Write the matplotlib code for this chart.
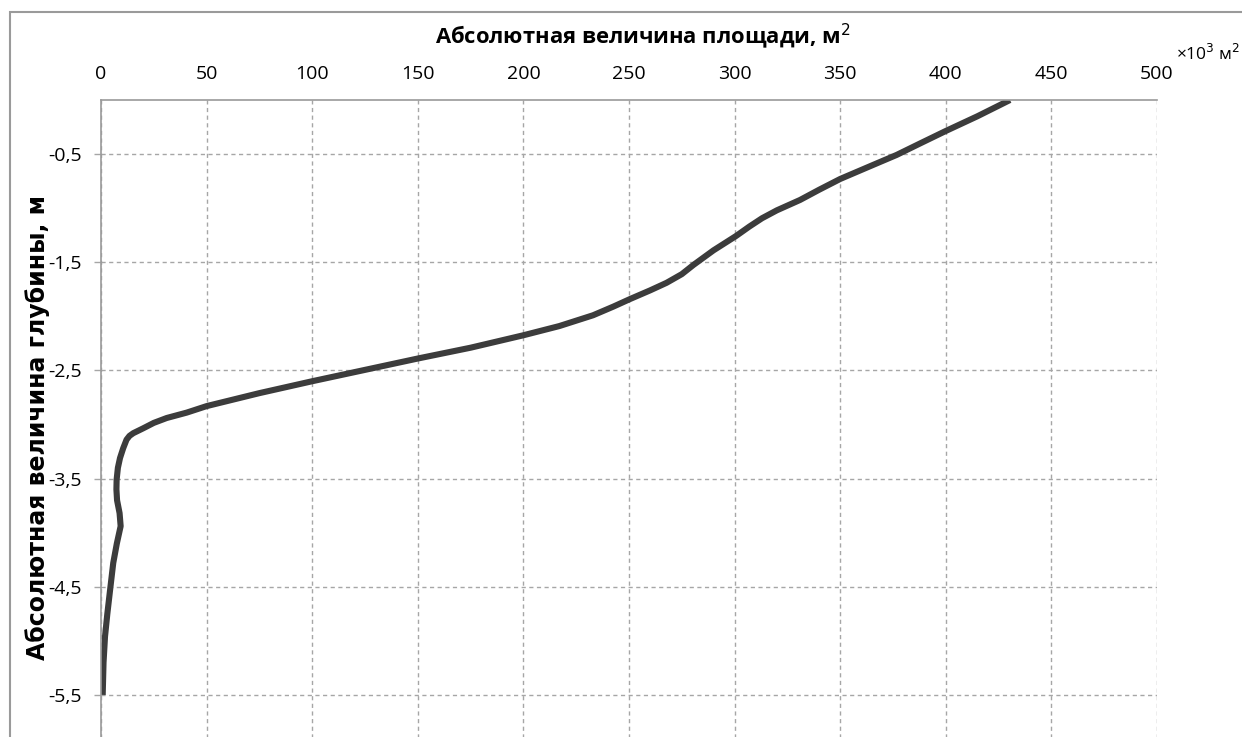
import matplotlib
matplotlib.use("Agg")
import matplotlib.pyplot as plt
from matplotlib.patches import Rectangle

# depth (m) and area (x10^3 m^2), from bottom to surface
depth = [-5.5, -5.2, -4.96, -4.75, -4.53, -4.28, -4.1, -3.94, -3.82, -3.70,
         -3.6, -3.51, -3.40, -3.31, -3.22, -3.14, -3.105, -3.08, -3.035, -2.985,
         -2.94, -2.89, -2.83, -2.71, -2.60, -2.495, -2.39, -2.29, -2.175, -2.09,
         -1.99, -1.91, -1.84, -1.76, -1.69, -1.61, -1.525, -1.39, -1.257, -1.17,
         -1.093, -1.02, -0.924, -0.83, -0.73, -0.605, -0.508, -0.40, -0.29, -0.15,
         0.0]
area = [0.8, 1.2, 1.9, 3.0, 4.3, 5.8, 7.5, 9.3, 8.8, 7.6,
        7.3, 7.4, 8.0, 9.0, 10.5, 12.1, 13.5, 15.3, 20.0, 25.0,
        31.1, 40.6, 50.0, 75.0, 100.0, 125.0, 150.0, 175.0, 200.0, 217.0,
        233.0, 242.6, 250.5, 260.0, 267.8, 275.0, 280.5, 290.0, 300.7, 307.0,
        313.0, 320.0, 331.0, 340.0, 350.0, 365.0, 376.7, 388.0, 399.6, 415.0,
        430.4]

x_ticks = [0, 50, 100, 150, 200, 250, 300, 350, 400, 450, 500]
y_ticks = [-0.5, -1.5, -2.5, -3.5, -4.5, -5.5]
y_tick_labels = ["-0,5", "-1,5", "-2,5", "-3,5", "-4,5", "-5,5"]

title = "Абсолютная величина площади, м$^2$"
y_label = "Абсолютная величина глубины, м"
unit_label = "×10$^3$ м$^2$"

grid_color = "#a6a6a6"
tick_font = "Open Sans"

W, H = 1242, 737
fig = plt.figure(figsize=(W / 100, H / 100), dpi=100)

# outer chart frame (cut off at right and bottom like the original screenshot)
fig.patches.append(Rectangle((10 / W, -0.1), 1.2, 1.1 - 12 / H, transform=fig.transFigure,
                             fill=False, edgecolor="#9a9a9a", linewidth=1.5))

left, right, top, bottom = 101, 1157, 100, 749
ax = fig.add_axes([left / W, 1 - bottom / H, (right - left) / W, (bottom - top) / H])

ax.plot(area, depth, color="#3c3c3c", linewidth=4.4, solid_capstyle="butt",
        solid_joinstyle="round")

ax.set_xlim(0, 500)
ax.set_ylim(-6, 0)
ax.xaxis.tick_top()
ax.set_xticks(x_ticks)
ax.set_xticklabels([str(t) for t in x_ticks], fontfamily=tick_font, fontsize=14)
ax.set_yticks(y_ticks)
ax.set_yticklabels(y_tick_labels, fontfamily=tick_font, fontsize=14)
ax.tick_params(axis="x", length=0, pad=12, colors="#000000")
ax.tick_params(axis="y", length=5, width=1, pad=9, color=grid_color)

ax.grid(True, color=grid_color, linestyle=(0, (3, 2.5)), linewidth=1)
for s in ["right", "bottom"]:
    ax.spines[s].set_visible(False)
for s in ["top", "left"]:
    ax.spines[s].set_color("#9a9a9a")
    ax.spines[s].set_linewidth(1.2)

fig.text(643 / W, 1 - 36 / H, title, ha="center", va="center",
         fontfamily="Open Sans", fontweight="bold", fontsize=15.8)
fig.text(38 / W, 1 - 427 / H, y_label, ha="center", va="center", rotation=90,
         fontfamily="DejaVu Sans", fontweight="bold", fontsize=17)
fig.text(1176 / W, 1 - 54 / H, unit_label, ha="left", va="center",
         fontfamily=tick_font, fontsize=12.5)

fig.savefig("out.png", dpi=100)
